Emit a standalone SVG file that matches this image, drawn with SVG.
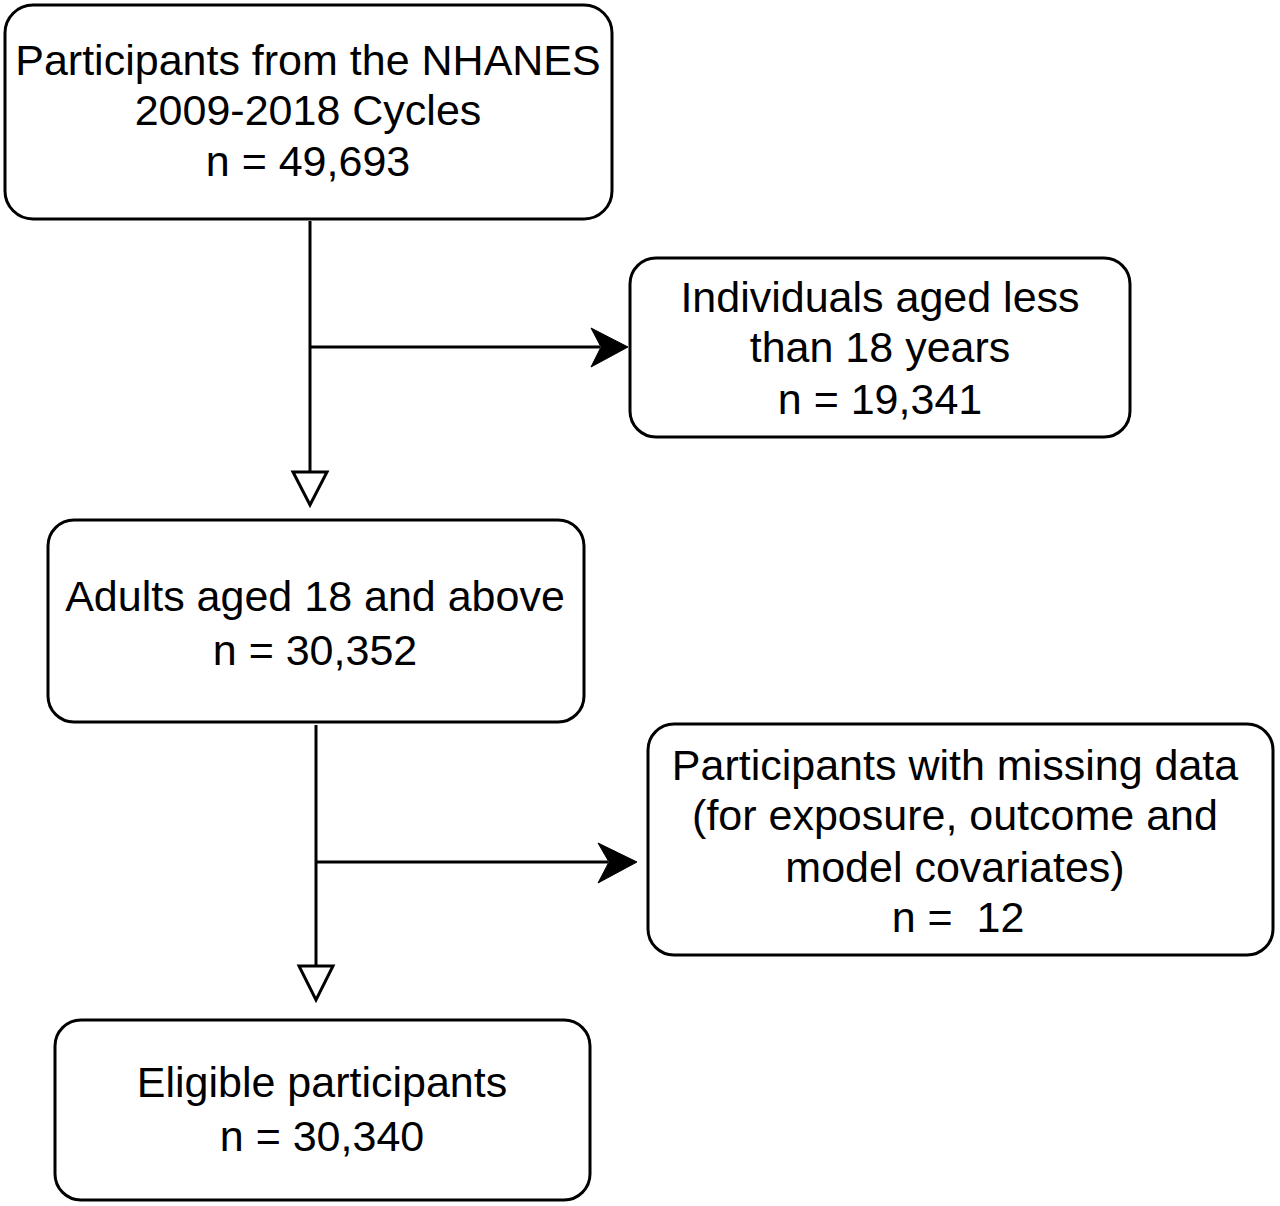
<svg xmlns="http://www.w3.org/2000/svg" width="1280" height="1206" viewBox="0 0 1280 1206">
<defs>
<style>
.box{fill:#fff;stroke:#000;stroke-width:3}
.t{font-family:"Liberation Sans",Arial,Helvetica,sans-serif;font-size:43px;fill:#000;text-anchor:middle}
.ln{fill:none;stroke:#000;stroke-width:3}
.hollow{fill:#fff;stroke:#000;stroke-width:3;stroke-linejoin:miter}
.solid{fill:#000;stroke:#000;stroke-width:1}
</style>
</defs>
<rect width="1280" height="1206" fill="#fff"/>
<g id="connectors">
<line class="ln" x1="310" y1="221" x2="310" y2="472"/>
<polygon class="hollow" points="293,472 327,472 310,505"/>
<line class="ln" x1="310" y1="347" x2="600" y2="347"/>
<polygon class="solid" points="628,347 591,328 601,347 591,367"/>
<line class="ln" x1="316" y1="725" x2="316" y2="966"/>
<polygon class="hollow" points="299,966 333,966 316,1000"/>
<line class="ln" x1="316" y1="862" x2="608" y2="862"/>
<polygon class="solid" points="637,862 598,843 609,862 598,883"/>
</g>
<g id="node-start">
<rect class="box" x="5" y="5" width="607" height="214" rx="28"/>
<text class="t" x="308" y="75">Participants from the NHANES</text>
<text class="t" x="308" y="125">2009-2018 Cycles</text>
<text class="t" x="308" y="176">n = 49,693</text>
</g>
<g id="node-under18">
<rect class="box" x="630" y="258" width="500" height="179" rx="26"/>
<text class="t" x="880" y="312">Individuals aged less</text>
<text class="t" x="880" y="362">than 18 years</text>
<text class="t" x="880" y="414">n = 19,341</text>
</g>
<g id="node-adults">
<rect class="box" x="48" y="520" width="536" height="202" rx="26"/>
<text class="t" x="315" y="611">Adults aged 18 and above</text>
<text class="t" x="315" y="665">n = 30,352</text>
</g>
<g id="node-missing">
<rect class="box" x="648" y="724" width="625" height="231" rx="26"/>
<text class="t" x="955" y="780">Participants with missing data</text>
<text class="t" x="955" y="830">(for exposure, outcome and</text>
<text class="t" x="955" y="882">model covariates)</text>
<text class="t" x="958" y="932" style="white-space:pre">n =  12</text>
</g>
<g id="node-eligible">
<rect class="box" x="55" y="1020" width="535" height="180" rx="26"/>
<text class="t" x="322" y="1097">Eligible participants</text>
<text class="t" x="322" y="1151">n = 30,340</text>
</g>
</svg>
